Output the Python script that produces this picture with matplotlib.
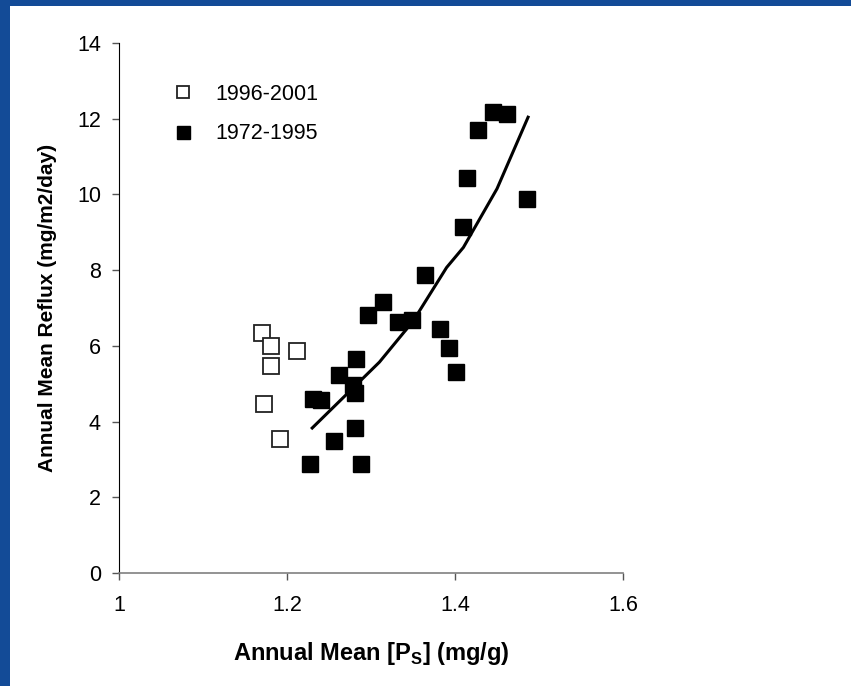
import matplotlib.pyplot as plt
from matplotlib.patches import Rectangle

plt.rcParams['font.family'] = ['Liberation Sans', 'DejaVu Sans']

# 1996-2001 (open squares)
ps_recent = [1.170, 1.181, 1.212, 1.181, 1.173, 1.192]
reflux_recent = [6.34, 6.00, 5.86, 5.47, 4.46, 3.54]

# 1972-1995 (filled squares)
ps_old = [1.227, 1.288, 1.256, 1.281, 1.231, 1.240, 1.262, 1.279, 1.281, 1.282,
          1.296, 1.314, 1.332, 1.349, 1.364, 1.382, 1.393, 1.401, 1.410, 1.414,
          1.427, 1.445, 1.462, 1.486]
reflux_old = [2.88, 2.88, 3.49, 3.83, 4.60, 4.57, 5.23, 4.97, 4.75, 5.65,
              6.81, 7.16, 6.63, 6.68, 7.87, 6.44, 5.94, 5.31, 9.14, 10.43,
              11.70, 12.18, 12.12, 9.88]

# trend line
fit_x = [1.23, 1.27, 1.31, 1.35, 1.39, 1.41, 1.45, 1.487]
fit_y = [3.83, 4.70, 5.57, 6.65, 8.07, 8.60, 10.15, 12.04]

x_ticks = [1.0, 1.2, 1.4, 1.6]
x_labels = ['1', '1.2', '1.4', '1.6']
y_ticks = [0, 2, 4, 6, 8, 10, 12, 14]

W, H = 851, 686
fig = plt.figure(figsize=(W / 100, H / 100), dpi=100)
fig.patch.set_facecolor('white')

# blue slide border (top and left)
blue = '#134b97'
fig.add_artist(Rectangle((0, (H - 6) / H), 1, 6 / H, transform=fig.transFigure,
                         facecolor=blue, edgecolor='none'))
fig.add_artist(Rectangle((0, 0), 10 / W, 1, transform=fig.transFigure,
                         facecolor=blue, edgecolor='none'))

ax = fig.add_axes([119 / W, 113 / H, 504 / W, 530 / H])

ax.plot(ps_recent, reflux_recent, linestyle='none', marker='s', markersize=11,
        markerfacecolor='white', markeredgecolor='#222222', markeredgewidth=1.3,
        label='1996-2001', zorder=3)
ax.plot(ps_old, reflux_old, linestyle='none', marker='s', markersize=12,
        markerfacecolor='black', markeredgecolor='black', markeredgewidth=1,
        label='1972-1995', zorder=3)
ax.plot(fit_x, fit_y, color='black', linewidth=2.2, zorder=4)

ax.set_xlim(1.0, 1.6)
ax.set_ylim(0, 14)
ax.set_xticks(x_ticks)
ax.set_xticklabels(x_labels)
ax.set_yticks(y_ticks)

for side in ['top', 'right']:
    ax.spines[side].set_visible(False)
ax.spines['left'].set_color('black')
ax.spines['bottom'].set_color('#808080')
ax.spines['bottom'].set_linewidth(1.2)

ax.tick_params(axis='both', direction='out', length=5, width=1,
               labelsize=15.5, color='#555555')
ax.tick_params(axis='x', pad=11)
ax.tick_params(axis='y', pad=8)

ax.set_xlabel('Annual Mean [P$_\\mathregular{S}$] (mg/g)', fontsize=17,
              fontweight='bold')
ax.set_ylabel('Annual Mean Reflux (mg/m2/day)', fontsize=15, fontweight='bold')
ax.xaxis.set_label_coords(0.5, (573 - 640) / 530)
ax.yaxis.set_label_coords((57 - 119) / 504, 0.5)

ax.legend(loc='upper left', bbox_to_anchor=(172 / W, (H - 84) / H),
          bbox_transform=fig.transFigure, frameon=False, fontsize=15.5,
          handlelength=1.0, handletextpad=1.0, labelspacing=0.85,
          borderpad=0, borderaxespad=0, markerscale=0.78)

fig.savefig('out.png', dpi=100)
